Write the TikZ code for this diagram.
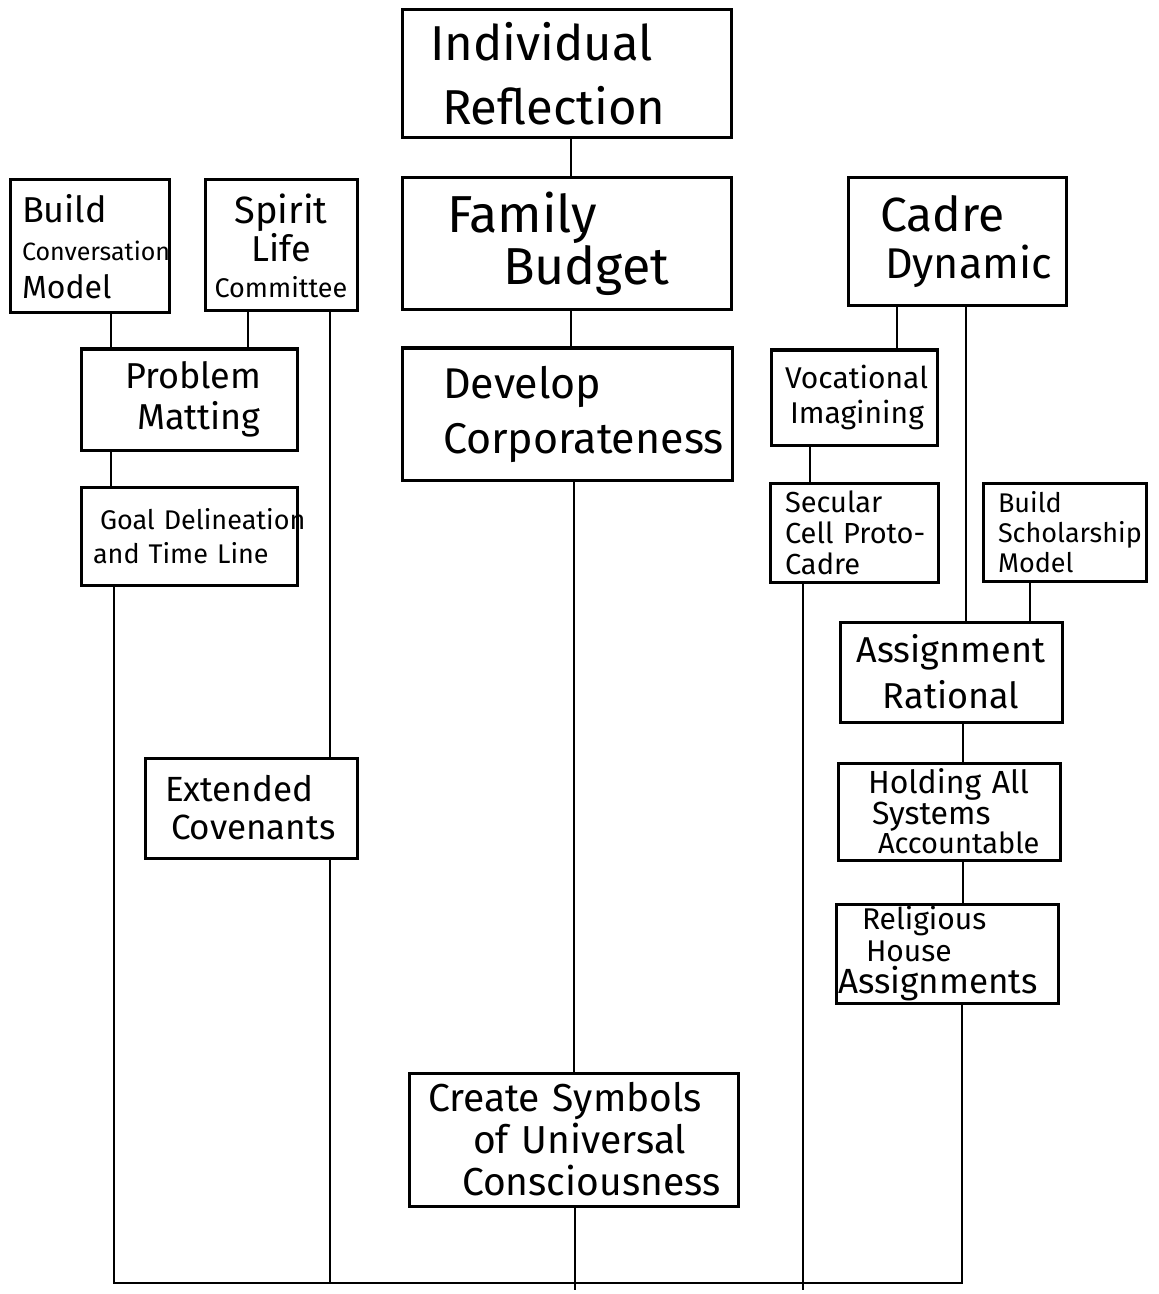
\documentclass[tikz,border=0pt]{standalone}
\usepackage{fontspec}
\setmainfont{Fira Sans}
\begin{document}
\begin{tikzpicture}[x=0.5pt,y=-0.5pt,
  box/.style={draw, line width=1.5pt, inner sep=2pt, align=left},
  lbox/.style 2 args={box, inner xsep=#1, text width=#2},
  conn/.style={line width=1.3pt},
  fs/.style 2 args={font=\fontsize{#1}{#2}\selectfont}]
\useasboundingbox (0,0) rectangle (1158,1294);
% central column
\node[lbox={14pt}{136.5pt}, minimum height=64pt, fs={24.5}{32}] (ir) at (566.5,74) {\mbox{Individual}\\\mbox{\hspace*{6pt}Reflection}};
\node[lbox={22.5pt}{119.5pt}, minimum height=66pt, fs={26}{25}] (fb) at (566.5,244) {\mbox{Family}\\\mbox{\hspace*{28pt}Budget}};
\node[lbox={20.5pt}{124pt}, minimum height=66pt, fs={21.5}{27.5}] (dc) at (567,414) {\mbox{Develop}\\\mbox{Corporateness}};
\node[lbox={9.5pt}{145.5pt}, minimum height=66.5pt, inner ysep=1pt, fs={19.5}{21}] (cs) at (573.5,1139.5) {\mbox{Create Symbols}\\\mbox{\hspace*{22.5pt}of Universal}\\\mbox{\hspace*{17pt}Consciousness}};
% left column
\node[lbox={6pt}{67.5pt}, minimum height=66.5pt, fs={12.5}{19}] (bcm) at (89.5,246.5) {\mbox{\fontsize{18}{19}\selectfont Build}\\\mbox{Conversation}\\\mbox{\fontsize{16}{19}\selectfont Model}};
\node[box, align=center, minimum width=76pt, minimum height=65.5pt, inner ysep=1pt, fs={13.5}{18}] (slc) at (281,245.5) {\mbox{\fontsize{19}{18}\selectfont Spirit}\\\mbox{\fontsize{18}{18}\selectfont Life}\\\mbox{Committee}};
\node[lbox={22pt}{64pt}, minimum height=50.5pt, fs={18}{20.5}] (pm) at (189,399.5) {\mbox{Problem}\\\mbox{\hspace*{6pt}Matting}};
\node[lbox={6pt}{96pt}, minimum height=49pt, fs={13.5}{17}] (gd) at (189,536) {\mbox{\hspace*{3.5pt}Goal Delineation}\\\mbox{and Time Line}};
\node[lbox={10pt}{86pt}, minimum height=50pt, fs={17.5}{19}] (ec) at (251,808) {\mbox{Extended}\\\mbox{\hspace*{3pt}Covenants}};
% right column
\node[lbox={16pt}{77pt}, minimum height=64pt, fs={21.5}{23.5}] (cd) at (957,242) {\mbox{\fontsize{24}{23.5}\selectfont Cadre}\\\mbox{\hspace*{2.5pt}Dynamic}};
\node[lbox={7pt}{69pt}, minimum height=47.5pt, fs={15}{17.5}] (vi) at (854,397.5) {\mbox{Vocational}\\\mbox{\hspace*{2.5pt}Imagining}};
\node[lbox={7.5pt}{69pt}, minimum height=49.5pt, fs={14.5}{15.5}] (sc) at (854,532.5) {\mbox{Secular}\\\mbox{Cell Proto-}\\\mbox{Cadre}};
\node[lbox={7.5pt}{66.5pt}, minimum height=49pt, fs={13.5}{15}] (bsm) at (1064.5,532) {\mbox{Build}\\\mbox{Scholarship}\\\mbox{Model}};
\node[box, align=center, minimum width=111pt, minimum height=50pt, fs={18}{23}] (ar) at (951,672) {Assignment\\Rational};
\node[lbox={15pt}{81pt}, minimum height=48.5pt, inner ysep=1pt, fs={16}{14.5}] (hs) at (949,811.5) {\mbox{Holding All}\\\mbox{\hspace*{2pt}Systems}\\\mbox{\hspace*{5pt}\fontsize{14.5}{14.5}\selectfont Accountable}};
\node[lbox={1pt}{109pt}, minimum height=49.5pt, inner ysep=0.5pt, fs={15}{16}] (rh) at (947,953.5) {\mbox{\hspace*{12pt}Religious}\\\mbox{\hspace*{14pt}House}\\\mbox{\fontsize{17.5}{16}\selectfont Assignments}};
% reference coordinates
\coordinate (bot) at (575,1283);
\coordinate (tail) at (575,1290);
% connectors left
\coordinate (a1) at ([xshift=10.75pt]bcm.south);
\coordinate (a2) at ([xshift=-16.5pt]slc.south);
\coordinate (a3) at ([xshift=-39pt]pm.south);
\coordinate (a4) at ([xshift=-37.5pt]gd.south);
\coordinate (a5) at ([xshift=24.5pt]slc.south);
\coordinate (a6) at ([xshift=39.5pt]ec.south);
\draw[conn] (a1) -- (a1 |- pm.north);
\draw[conn] (a2) -- (a2 |- pm.north);
\draw[conn] (a3) -- (a3 |- gd.north);
\draw[conn] (a5) -- (a5 |- ec.north);
\draw[conn] (a6) -- (a6 |- bot);
% connectors centre
\coordinate (c1) at ([xshift=2.25pt]ir.south);
\coordinate (c2) at ([xshift=2.25pt]fb.south);
\coordinate (c3) at ([xshift=3.5pt]dc.south);
\coordinate (c4) at ([xshift=0.75pt]cs.south);
\draw[conn] (c1) -- (c1 |- fb.north);
\draw[conn] (c2) -- (c2 |- dc.north);
\draw[conn] (c3) -- (c3 |- cs.north);
\draw[conn] (c4) -- (c4 |- tail);
% connectors right
\coordinate (r1) at ([xshift=-30pt]cd.south);
\coordinate (r2) at ([xshift=4.5pt]cd.south);
\coordinate (r3) at ([xshift=-22pt]vi.south);
\coordinate (r4) at ([xshift=-25.5pt]sc.south);
\coordinate (r5) at ([xshift=-17.25pt]bsm.south);
\coordinate (r6) at ([xshift=6pt]ar.south);
\coordinate (r7) at ([xshift=7pt]hs.south);
\coordinate (r8) at ([xshift=7.5pt]rh.south);
\draw[conn] (r1) -- (r1 |- vi.north);
\draw[conn] (r2) -- (r2 |- ar.north);
\draw[conn] (r3) -- (r3 |- sc.north);
\draw[conn] (r4) -- (r4 |- tail);
\draw[conn] (r5) -- (r5 |- ar.north);
\draw[conn] (r6) -- (r6 |- hs.north);
\draw[conn] (r7) -- (r7 |- rh.north);
% bottom bus
\draw[conn] (a4) -- (a4 |- bot) -- (r8 |- bot) -- (r8);
\end{tikzpicture}
\end{document}
